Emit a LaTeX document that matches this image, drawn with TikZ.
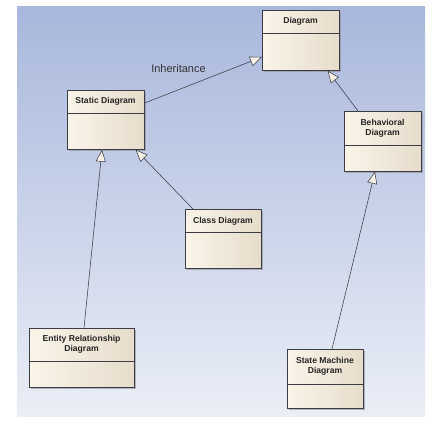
\documentclass[tikz,border=0pt]{standalone}
\usepackage{fontspec}
\setmainfont{Liberation Sans}
\usetikzlibrary{arrows.meta}
\definecolor{bgtop}{HTML}{A8B7DC}
\definecolor{bgbot}{HTML}{EAEEF6}
\definecolor{boxl}{HTML}{FAF4E9}
\definecolor{boxr}{HTML}{E6DCCB}
\definecolor{edgec}{HTML}{3C3C44}
\definecolor{shadowc}{HTML}{8C8C96}
\begin{document}
\begin{tikzpicture}[x=1pt,y=1pt,
  classbox/.style={draw=edgec, line width=0.7pt, left color=boxl, right color=boxr, inner sep=0pt, anchor=north west},
  divline/.style={draw=edgec, line width=0.6pt},
  shadowbox/.style={fill=shadowc, opacity=0.6},
  lbl/.style={font=\fontsize{8.6}{10.2}\selectfont\bfseries, text=black!85, align=center, inner sep=0pt},
  gen/.style={draw=edgec, line width=0.55pt, -{Triangle[open, length=12pt, width=10pt, fill=boxl]}}]
\useasboundingbox (0,0) rectangle (442,-425);
\fill[white] (0,0) rectangle (442,-425);
\shade[top color=bgtop, bottom color=bgbot] (17,-7) rectangle (425,-416);

% Diagram
\fill[shadowbox] (264,-12) rectangle (341,-72);
\node[classbox, minimum width=77pt, minimum height=60pt] (d) at (262,-10) {};
\draw[divline] (262,-33) -- (339,-33);
\node[lbl] (dt) at (300.5,-21.5) {Diagram};

% Static Diagram
\fill[shadowbox] (69,-92) rectangle (146,-151);
\node[classbox, minimum width=77pt, minimum height=59pt] (s) at (67,-90) {};
\draw[divline] (67,-113) -- (144,-113);
\node[lbl] (st) at (105.5,-101.5) {Static Diagram};

% Behavioral Diagram
\fill[shadowbox] (346,-113) rectangle (423,-173);
\node[classbox, minimum width=77pt, minimum height=60pt] (b) at (344,-111) {};
\draw[divline] (344,-145) -- (421,-145);
\node[lbl] (bt) at (382.5,-128) {Behavioral\\Diagram};

% Class Diagram
\fill[shadowbox] (187,-211) rectangle (263,-270);
\node[classbox, minimum width=76pt, minimum height=59pt] (c) at (185,-209) {};
\draw[divline] (185,-232) -- (261,-232);
\node[lbl] (ct) at (223,-221) {Class Diagram};

% Entity Relationship Diagram
\fill[shadowbox] (31,-330) rectangle (136,-389);
\node[classbox, minimum width=105pt, minimum height=59pt] (e) at (29,-328) {};
\draw[divline] (29,-361) -- (134,-361);
\node[lbl] (et) at (81.5,-344.5) {Entity Relationship\\Diagram};

% State Machine Diagram
\fill[shadowbox] (289,-351) rectangle (365,-410);
\node[classbox, minimum width=76pt, minimum height=59pt] (m) at (287,-349) {};
\draw[divline] (287,-384) -- (363,-384);
\node[lbl] (mt) at (325,-366.5) {State Machine\\Diagram};

% Generalisations
\draw[gen] ([yshift=-13pt]s.north east) -- ([yshift=-47pt]d.north west);
\draw[gen] ([xshift=14pt]b.north west) -- ([xshift=-12pt]d.south east);
\draw[gen] ([xshift=8pt]c.north west) -- ([xshift=-9pt]s.south east);
\draw[gen] ([xshift=55pt]e.north west) -- ([xshift=35pt]s.south west);
\draw[gen] ([xshift=45pt]m.north west) -- ([xshift=31pt]b.south west);

\node[font=\fontsize{11}{13}\selectfont, text=black!80, inner sep=0pt] (inh) at (178.5,-69) {Inheritance};
\end{tikzpicture}
\end{document}
